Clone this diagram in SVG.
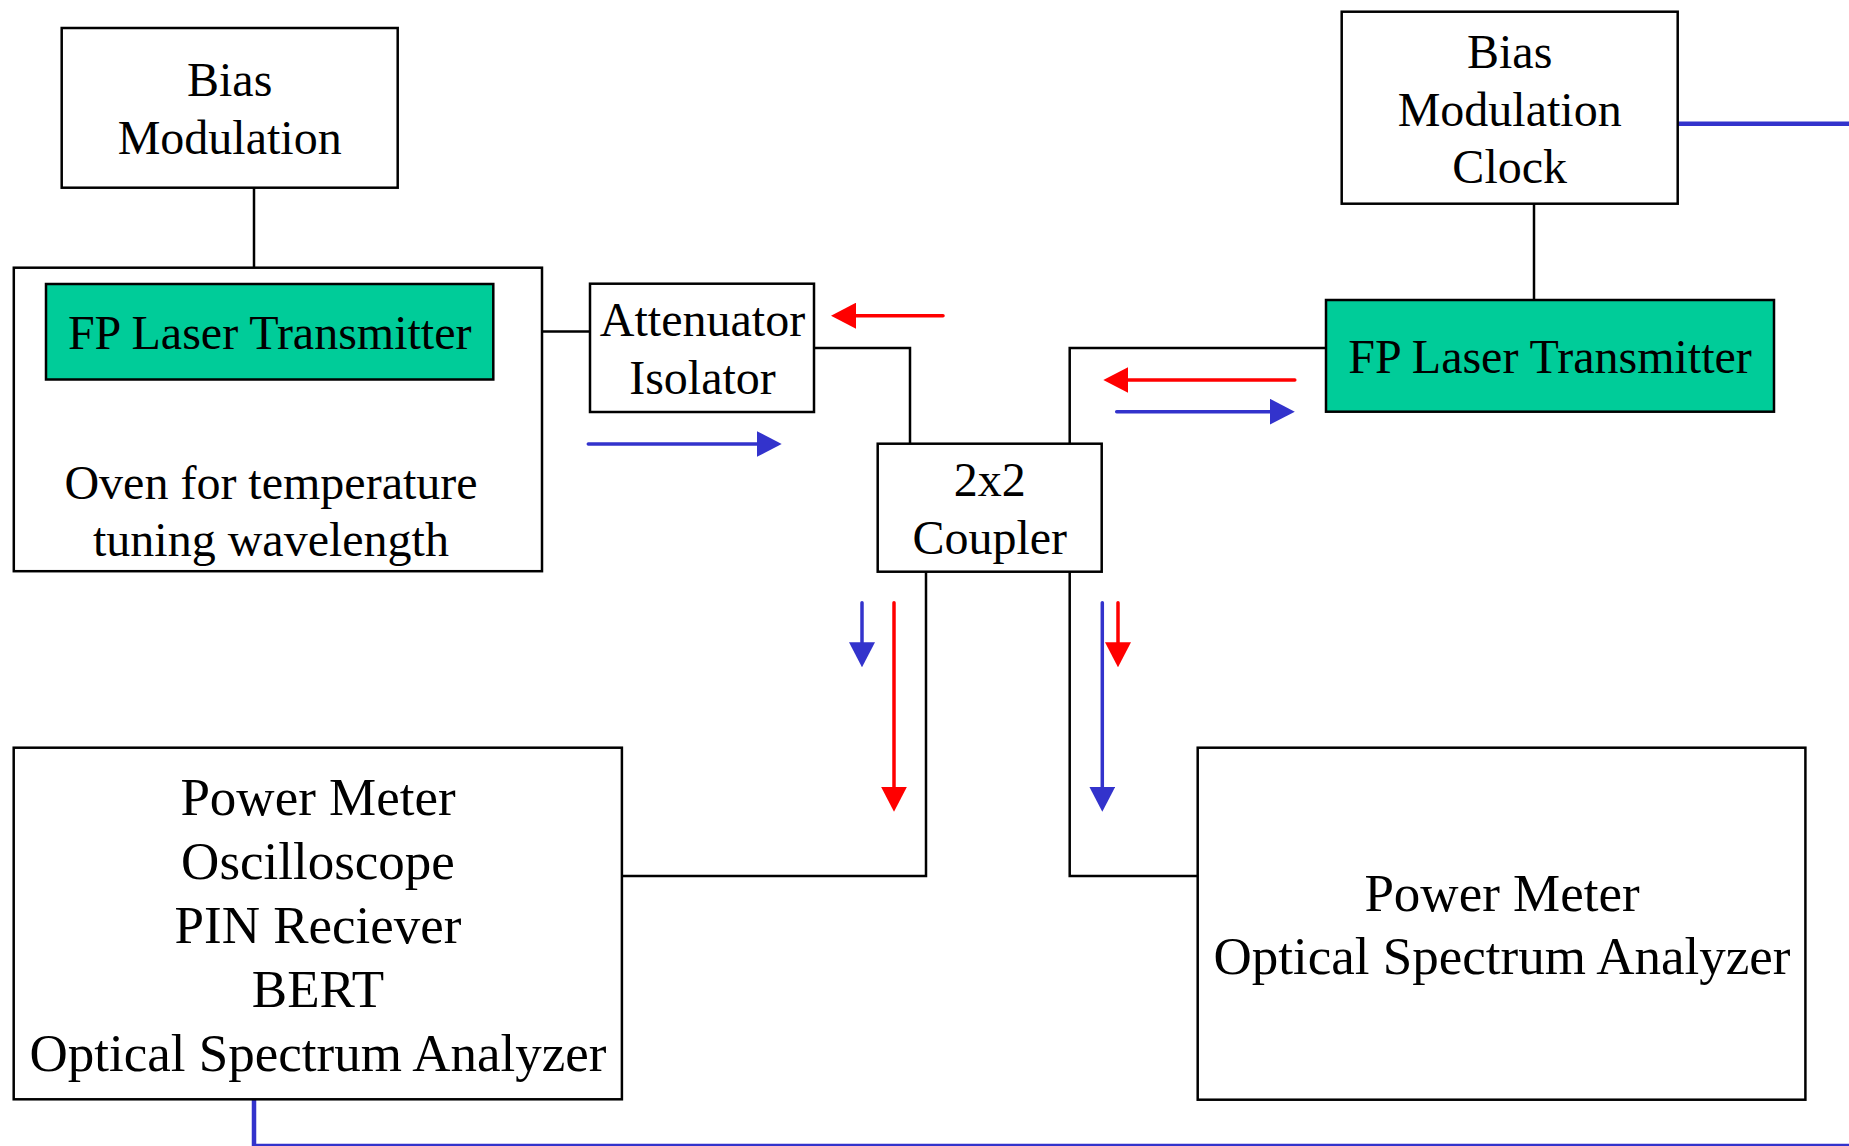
<svg xmlns="http://www.w3.org/2000/svg" width="1849" height="1146" viewBox="0 0 1849 1146">
  <style>
    .box { fill: #ffffff; stroke: #000000; stroke-width: 2.5; }
    .laser { fill: #00CC99; stroke: #000000; stroke-width: 2.5; }
    .wire { fill: none; stroke: #000000; stroke-width: 2.5; }
    .red { fill: none; stroke: #FF0000; stroke-width: 3.5; stroke-linecap: round; }
    .blue { fill: none; stroke: #3333CC; stroke-width: 3.5; stroke-linecap: round; }
    .cable { fill: none; stroke: #3333CC; stroke-width: 4.5; stroke-linecap: round; }
    text { font-family: "Liberation Serif", "Times New Roman", serif; fill: #000000; text-anchor: middle; }
    .t48 { font-size: 48px; }
    .t53 { font-size: 53px; }
  </style>
  <defs>
    <marker id="headRed" markerUnits="userSpaceOnUse" viewBox="0 0 25 26" refX="0" refY="13" markerWidth="25" markerHeight="26" orient="auto">
      <path d="M0,0 L25,13 L0,26 Z" fill="#FF0000"/>
    </marker>
    <marker id="headBlue" markerUnits="userSpaceOnUse" viewBox="0 0 25 26" refX="0" refY="13" markerWidth="25" markerHeight="26" orient="auto">
      <path d="M0,0 L25,13 L0,26 Z" fill="#3333CC"/>
    </marker>
  </defs>

  <rect width="1849" height="1146" fill="#ffffff"/>

  <!-- wiring between units -->
  <g id="connectors">
    <line class="wire" x1="254" y1="188" x2="254" y2="284"/>
    <line class="wire" x1="542" y1="331.5" x2="590" y2="331.5"/>
    <polyline class="wire" points="814,348 910,348 910,444"/>
    <polyline class="wire" points="1069.7,444 1069.7,348 1326,348"/>
    <line class="wire" x1="1534" y1="204" x2="1534" y2="300"/>
    <polyline class="wire" points="926,572 926,876 622,876"/>
    <polyline class="wire" points="1069.7,572 1069.7,876 1198,876"/>
    <!-- electrical cable from receiver to clock -->
    <polyline class="cable" points="254,1099 254,1146 1849,1146"/>
    <line class="cable" x1="1678" y1="123.7" x2="1849" y2="123.7"/>
    <!-- signal flow arrows -->
    <line class="red" x1="943" y1="315.7" x2="856" y2="315.7" marker-end="url(#headRed)"/>
    <line class="blue" x1="588.3" y1="444" x2="756.7" y2="444" marker-end="url(#headBlue)"/>
    <line class="red" x1="1294.8" y1="380" x2="1128.3" y2="380" marker-end="url(#headRed)"/>
    <line class="blue" x1="1116.7" y1="411.7" x2="1269.8" y2="411.7" marker-end="url(#headBlue)"/>
    <line class="blue" x1="862" y1="602.7" x2="862" y2="642.3" marker-end="url(#headBlue)"/>
    <line class="red" x1="894" y1="602.7" x2="894" y2="786.7" marker-end="url(#headRed)"/>
    <line class="blue" x1="1102.3" y1="602.7" x2="1102.3" y2="786.7" marker-end="url(#headBlue)"/>
    <line class="red" x1="1118" y1="602.7" x2="1118" y2="642.3" marker-end="url(#headRed)"/>
  </g>

  <g id="bias-left">
    <rect class="box" x="61.7" y="28" width="336" height="159.7"/>
    <text class="t48" x="229.7" y="96">Bias</text>
    <text class="t48" x="229.7" y="154">Modulation</text>
  </g>

  <g id="oven">
    <rect class="box" x="13.8" y="267.7" width="528.2" height="303.5"/>
    <text class="t48" x="271" y="499">Oven for temperature</text>
    <text class="t48" x="271" y="556">tuning wavelength</text>
  </g>

  <g id="laser-left">
    <rect class="laser" x="46" y="284" width="447.3" height="95.5"/>
    <text class="t48" x="269.7" y="348.5">FP Laser Transmitter</text>
  </g>

  <g id="attenuator">
    <rect class="box" x="590" y="283.7" width="224" height="128.3"/>
    <text class="t48" x="702.5" y="336">Attenuator</text>
    <text class="t48" x="702.5" y="394">Isolator</text>
  </g>

  <g id="coupler">
    <rect class="box" x="877.7" y="443.7" width="224" height="128"/>
    <text class="t48" x="989.7" y="496">2x2</text>
    <text class="t48" x="989.7" y="554">Coupler</text>
  </g>

  <g id="bias-right">
    <rect class="box" x="1341.7" y="11.7" width="336" height="192"/>
    <text class="t48" x="1509.7" y="68.3">Bias</text>
    <text class="t48" x="1509.7" y="125.5">Modulation</text>
    <text class="t48" x="1509.7" y="183">Clock</text>
  </g>

  <g id="laser-right">
    <rect class="laser" x="1326" y="300" width="448" height="111.7"/>
    <text class="t48" x="1550" y="372.7">FP Laser Transmitter</text>
  </g>

  <g id="receiver">
    <rect class="box" x="13.7" y="747.7" width="608.2" height="351.6"/>
    <text class="t53" x="318" y="815">Power Meter</text>
    <text class="t53" x="318" y="879">Oscilloscope</text>
    <text class="t53" x="318" y="942.5">PIN Reciever</text>
    <text class="t53" x="318" y="1006.5">BERT</text>
    <text class="t53" x="318" y="1070.5">Optical Spectrum Analyzer</text>
  </g>

  <g id="analyzer">
    <rect class="box" x="1197.7" y="747.7" width="607.7" height="352"/>
    <text class="t53" x="1502" y="910.7">Power Meter</text>
    <text class="t53" x="1502" y="974">Optical Spectrum Analyzer</text>
  </g>
</svg>
